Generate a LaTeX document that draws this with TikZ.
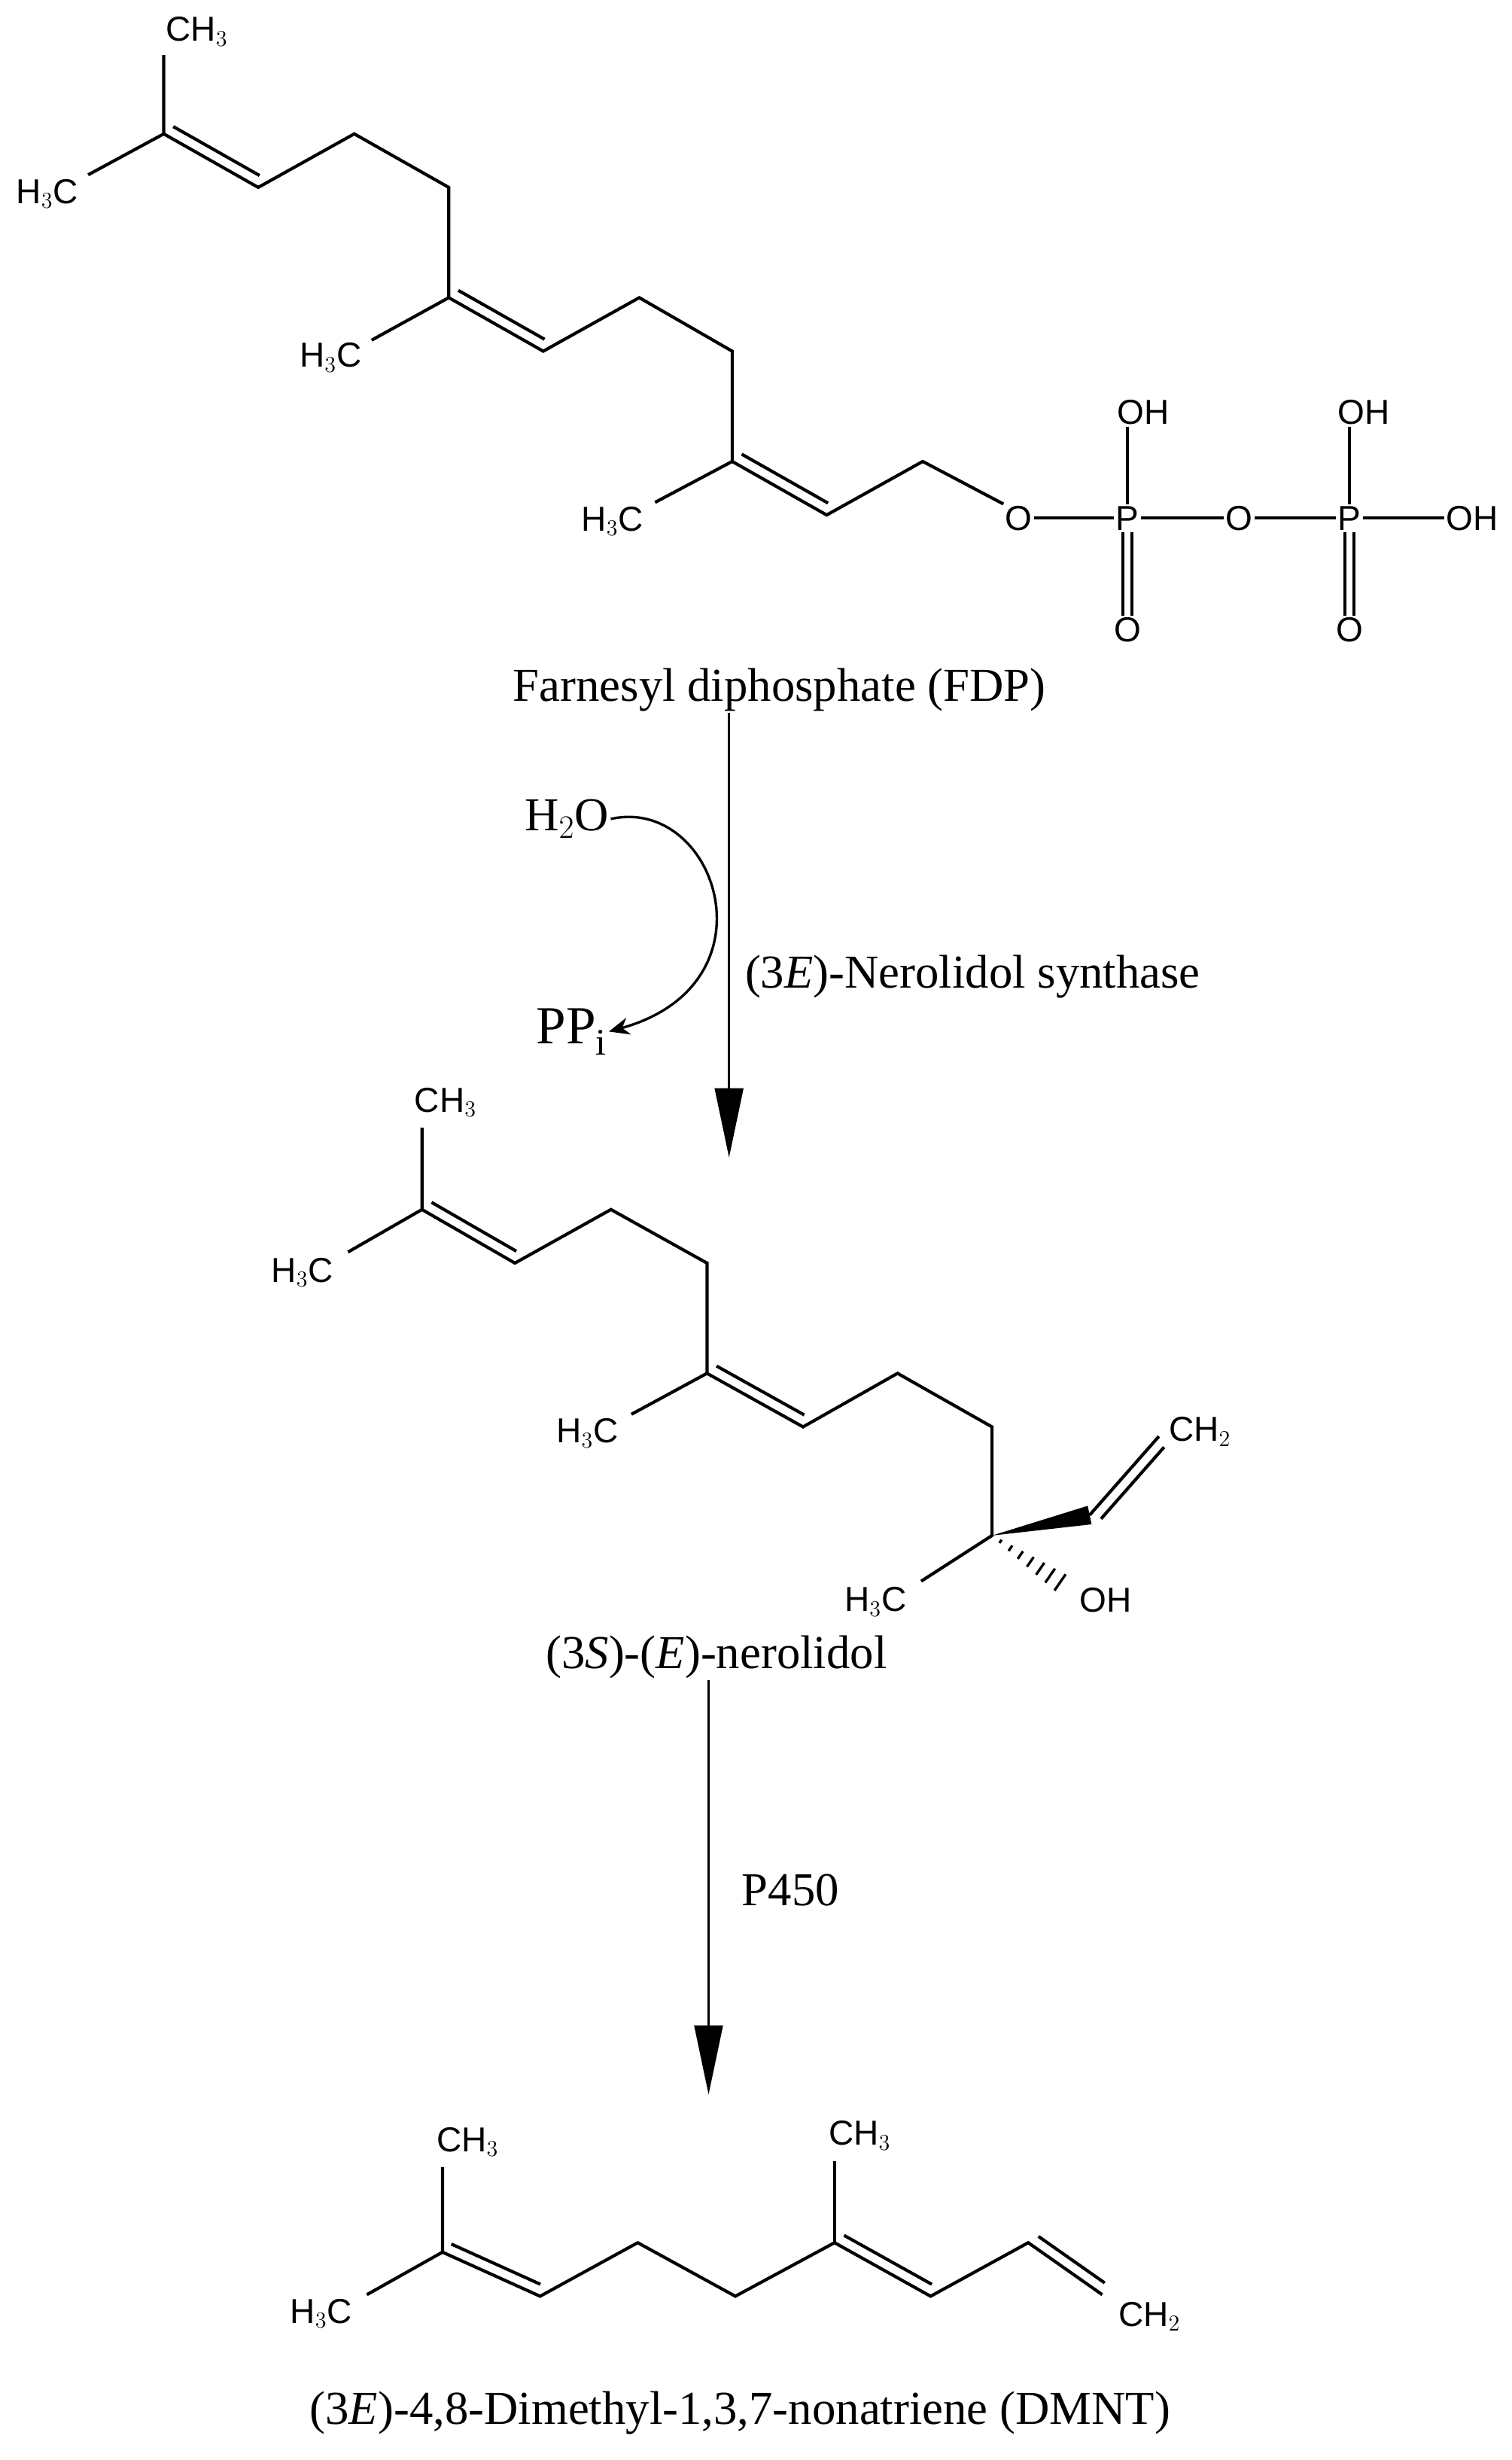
\documentclass[tikz,border=0pt]{standalone}
\usepackage{fontspec}
\setmainfont{Liberation Serif}
\newfontfamily\atomfont{Liberation Sans}
\usetikzlibrary{calc,arrows.meta}
\tikzset{
  bnd/.style={line width=2pt},
  atom/.style={inner sep=1pt,font=\atomfont\fontsize{22}{26}\selectfont},
  captxt/.style={inner sep=1pt,font=\fontsize{30}{35}\selectfont},
  rxn/.style={line width=1.6pt,-{Triangle[length=44pt,width=18pt]}},
}
\newcommand{\dbl}[3]{\draw[bnd,shorten <=3pt,shorten >=3pt] ($(#1)!7pt!#3:(#2)$) -- ($(#2)!7pt!-#3:(#1)$);}
\begin{document}
\begin{tikzpicture}[x=1pt,y=-1pt]
\useasboundingbox (0,0) rectangle (960,1562);
% ---------- FDP ----------
\coordinate (a1) at (104,85); \coordinate (a1u) at (104,35);
\coordinate (a1l) at (56,111);
\coordinate (a2) at (164,119); \coordinate (a3) at (225,85);
\coordinate (a4) at (285,119); \coordinate (a5) at (285,189);
\coordinate (a5l) at (236,216);
\coordinate (a6) at (345,223); \coordinate (a7) at (406,189);
\coordinate (a8) at (465,223); \coordinate (a9) at (465,293);
\coordinate (a9l) at (416,319);
\coordinate (a10) at (525,327); \coordinate (a11) at (586,293);
\node[atom] (fch3) at (125,20) {CH$_3$};
\node[atom] (fh3a) at (30,123) {H$_3$C};
\node[atom] (fh3b) at (210,227) {H$_3$C};
\node[atom] (fh3c) at (389,331) {H$_3$C};
\node[atom] (o1) at (647,329) {O};
\node[atom] (p1) at (716,329) {P};
\node[atom] (o2) at (787,329) {O};
\node[atom] (p2) at (857,329) {P};
\node[atom] (oh3) at (935,329) {OH};
\node[atom] (oh1) at (726,262) {OH};
\node[atom] (oh2) at (866,262) {OH};
\node[atom] (ox1) at (716,400) {O};
\node[atom] (ox2) at (857,400) {O};
\draw[bnd] (a1u) -- (a1) -- (a2) -- (a3) -- (a4) -- (a5) -- (a6) -- (a7) -- (a8) -- (a9) -- (a10) -- (a11) -- (o1.north west);
\draw[bnd] (a1l) -- (a1); \draw[bnd] (a5l) -- (a5); \draw[bnd] (a9l) -- (a9);
\dbl{a1}{a2}{90} \dbl{a5}{a6}{90} \dbl{a9}{a10}{90}
\draw[bnd] (o1) -- (p1) -- (o2) -- (p2) -- (oh3);
\draw[bnd] (p1) -- (oh1.south -| p1); \draw[bnd] (p2) -- (oh2.south -| p2);
\draw[bnd] ([xshift=-3pt]p1.south) -- ([xshift=-3pt]ox1.north);
\draw[bnd] ([xshift=3pt]p1.south) -- ([xshift=3pt]ox1.north);
\draw[bnd] ([xshift=-3pt]p2.south) -- ([xshift=-3pt]ox2.north);
\draw[bnd] ([xshift=3pt]p2.south) -- ([xshift=3pt]ox2.north);
\node[captxt] (fdp) at (495,438) {Farnesyl diphosphate (FDP)};
% ---------- arrow 1 ----------
\coordinate (t1) at (463,735);
\draw[rxn] (fdp.south -| t1) -- (t1);
\node[captxt] (h2o) at (360,520) {H$_2$O};
\node[captxt,font=\fontsize{34}{39}\selectfont] (ppi) at (363,655) {PP$_\mathrm{i}$};
\draw[line width=1.6pt,-{Stealth[length=13pt,width=11pt]}] (h2o.east) .. controls (455,505) and (495,625) .. (ppi.east);
\node[captxt,anchor=west] (syn) at (472,620) {(3\textit{E})-Nerolidol synthase};
% ---------- nerolidol ----------
\coordinate (b1) at (268,768); \coordinate (b1u) at (268,716);
\coordinate (b1l) at (221,795);
\coordinate (b2) at (327,802); \coordinate (b3) at (388,768);
\coordinate (b4) at (449,802); \coordinate (b5) at (449,872);
\coordinate (b5l) at (401,898);
\coordinate (b6) at (510,906); \coordinate (b7) at (570,872);
\coordinate (b8) at (630,906); \coordinate (b9) at (630,975);
\coordinate (b10) at (692,962); \coordinate (b11) at (736,912);
\coordinate (b9l) at (585,1004); \coordinate (b9o) at (675,1006);
\node[atom] (nch3) at (283,700) {CH$_3$};
\node[atom] (nh3a) at (192,808) {H$_3$C};
\node[atom] (nh3b) at (373,910) {H$_3$C};
\node[atom] (nch2) at (762,909) {CH$_2$};
\node[atom] (nh3c) at (556,1017) {H$_3$C};
\node[atom] (noh) at (702,1016) {OH};
\draw[bnd] (b1u) -- (b1) -- (b2) -- (b3) -- (b4) -- (b5) -- (b6) -- (b7) -- (b8) -- (b9) -- (b9l);
\draw[bnd] (b1l) -- (b1); \draw[bnd] (b5l) -- (b5);
\dbl{b1}{b2}{90} \dbl{b5}{b6}{90}
\draw[bnd] (b10) -- (b11);
\draw[bnd,shorten <=3pt,shorten >=3pt] ($(b10)!7pt!-90:(b11)$) -- ($(b11)!7pt!90:(b10)$);
\fill (b9) -- ($(b10)!6pt!90:(b9)$) -- ($(b10)!6pt!-90:(b9)$) -- cycle;
\foreach \t in {0.12,0.26,0.40,0.54,0.68,0.82,0.96}{
  \draw[line width=1.6pt] ($($(b9)!\t!(b9o)$)!{\t*6pt+0.5pt}!90:(b9o)$) -- ($($(b9)!\t!(b9o)$)!{\t*6pt+0.5pt}!-90:(b9o)$);
}
\node[captxt] (ner) at (455,1052) {(3\textit{S})-(\textit{E})-nerolidol};
% ---------- arrow 2 ----------
\coordinate (t2) at (450,1330);
\draw[rxn] (ner.south -| t2) -- (t2);
\node[captxt,anchor=west] (p450) at (470,1200) {P450};
% ---------- DMNT ----------
\coordinate (c1) at (281,1430); \coordinate (c1u) at (281,1376);
\coordinate (c1l) at (233,1457);
\coordinate (c2) at (343,1458); \coordinate (c3) at (405,1424);
\coordinate (c4) at (467,1458); \coordinate (c5) at (530,1424);
\coordinate (c5u) at (530,1372);
\coordinate (c6) at (591,1458); \coordinate (c7) at (653,1424);
\coordinate (c8) at (700,1457);
\node[atom] (dch3a) at (297,1360) {CH$_3$};
\node[atom] (dch3b) at (546,1356) {CH$_3$};
\node[atom] (dh3c) at (204,1469) {H$_3$C};
\node[atom] (dch2) at (730,1471) {CH$_2$};
\draw[bnd] (c1u) -- (c1) -- (c2) -- (c3) -- (c4) -- (c5) -- (c6) -- (c7) -- (c8);
\draw[bnd] (c1l) -- (c1); \draw[bnd] (c5u) -- (c5);
\dbl{c1}{c2}{90} \dbl{c5}{c6}{90} \dbl{c7}{c8}{90}
\node[captxt] (dmnt) at (470,1532) {(3\textit{E})-4,8-Dimethyl-1,3,7-nonatriene (DMNT)};
\end{tikzpicture}
\end{document}
